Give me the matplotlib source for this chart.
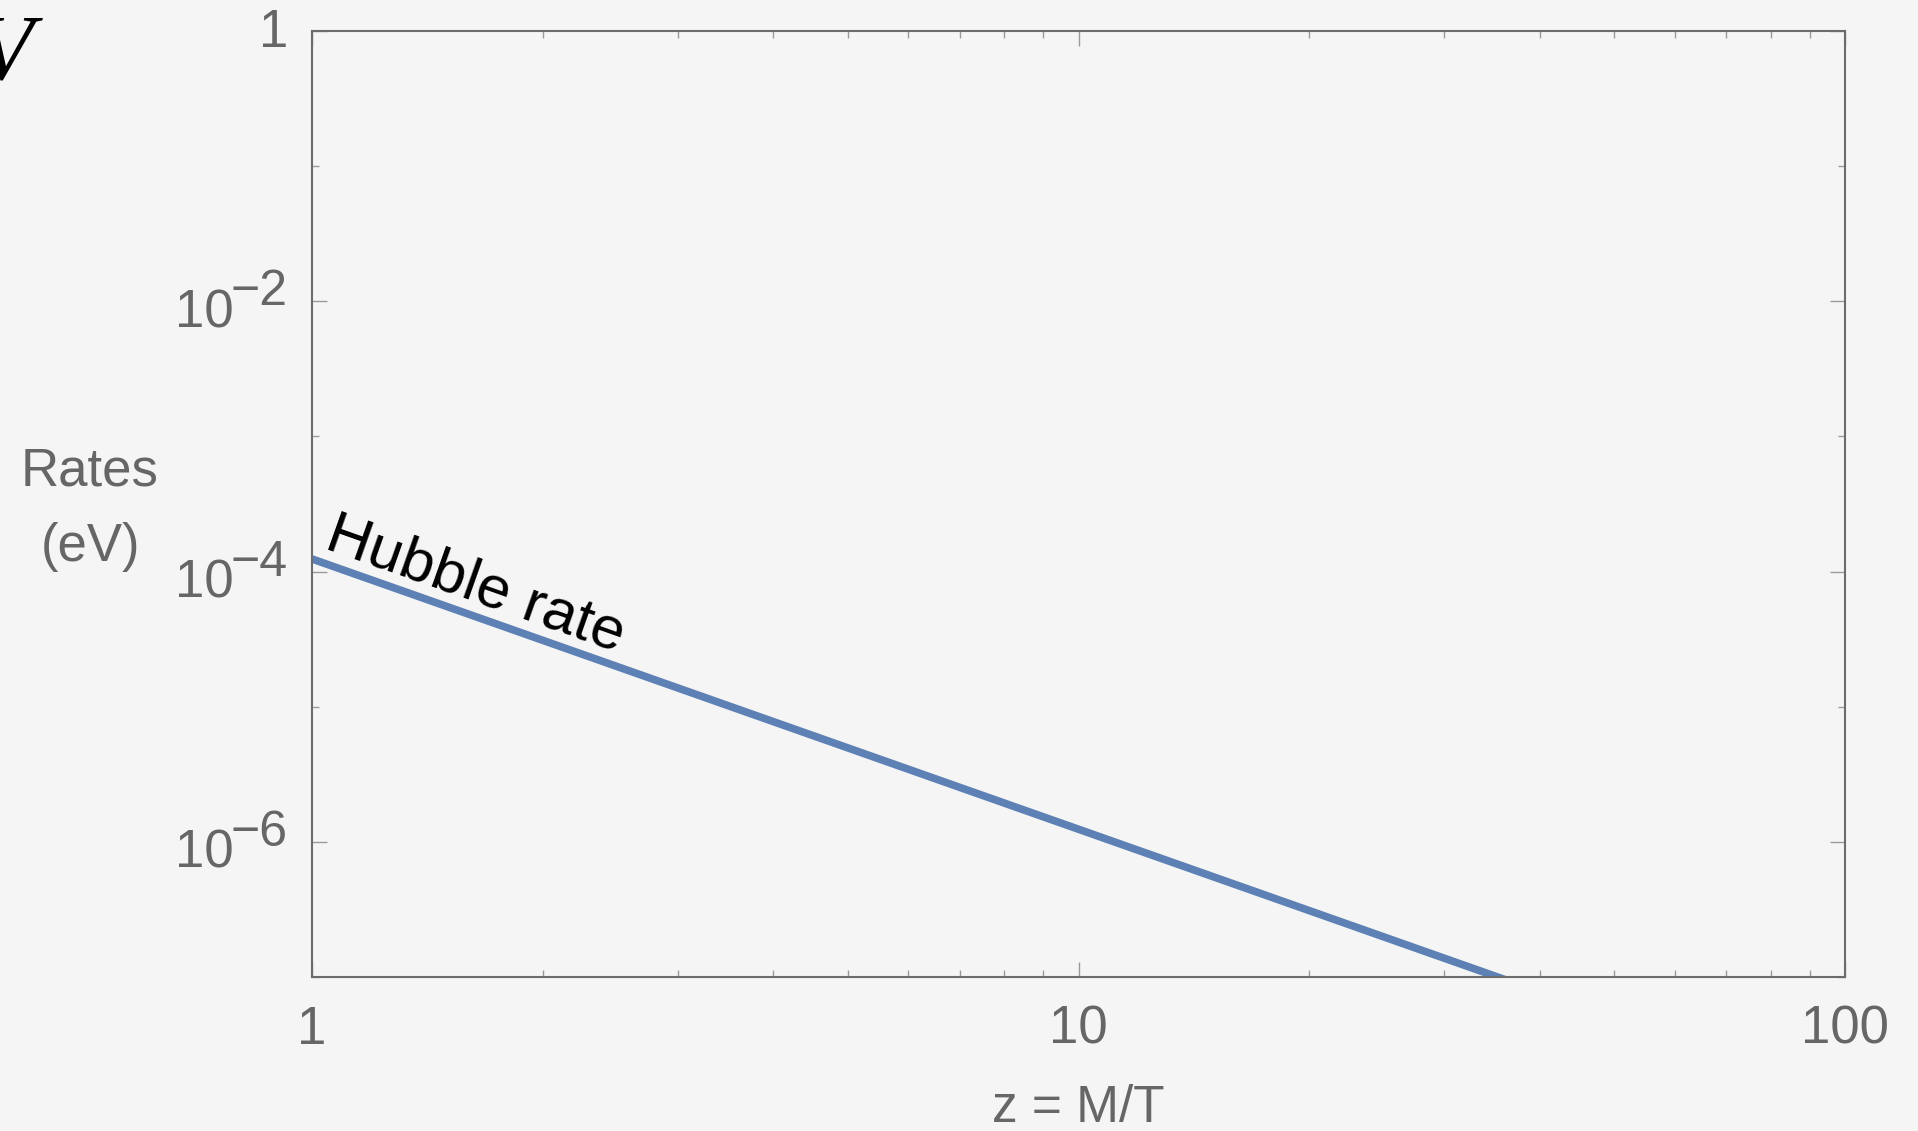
import matplotlib
matplotlib.use("Agg")
import matplotlib.pyplot as plt
from matplotlib import transforms
from matplotlib.ticker import FixedLocator, NullFormatter

# valores
z_vals = [1, 2, 5, 10, 20, 40]
hubble_vals = [1.24e-4, 3.1e-5, 4.96e-6, 1.24e-6, 3.1e-7, 7.75e-8]

x_major = [1, 10, 100]
x_major_labels = ["1", "10", "100"]
x_minor = [2, 3, 4, 5, 6, 7, 8, 9, 20, 30, 40, 50, 60, 70, 80, 90]
y_major = [1, 1e-2, 1e-4, 1e-6]
y_exp = ["", "\u22122", "\u22124", "\u22126"]
y_minor = [1e-1, 1e-3, 1e-5, 1e-7]

bg = "#f5f5f5"
gris = "#666666"
gris_tick = "#9a9a9a"
azul = "#5e81b5"

plt.rcParams["font.family"] = ["Liberation Sans", "DejaVu Sans"]

fig = plt.figure(figsize=(19.18, 11.31), dpi=100, facecolor=bg)
ax = fig.add_axes([0.16267, 0.13616, 0.79927, 0.83643], facecolor=bg)

ax.plot(z_vals, hubble_vals, color=azul, lw=5.5, solid_capstyle="butt")

ax.set_xscale("log")
ax.set_yscale("log")
ax.set_xlim(1, 100)
ax.set_ylim(1e-7, 1)

for s in ax.spines.values():
    s.set_color("#6b6b6b")
    s.set_linewidth(1.5)

ax.xaxis.set_major_locator(FixedLocator(x_major))
ax.xaxis.set_minor_locator(FixedLocator(x_minor))
ax.set_xticklabels(x_major_labels)
ax.xaxis.set_minor_formatter(NullFormatter())
ax.yaxis.set_major_locator(FixedLocator(y_major))
ax.yaxis.set_minor_locator(FixedLocator(y_minor))
ax.yaxis.set_major_formatter(NullFormatter())
ax.yaxis.set_minor_formatter(NullFormatter())

ax.tick_params(which="both", direction="in", top=True, right=True,
               color=gris_tick, width=1)
ax.tick_params(which="major", length=10.5)
ax.tick_params(which="minor", length=5)
ax.tick_params(axis="x", which="major", labelsize=38, labelcolor=gris, pad=20)

# etiquetas del eje y estilo Mathematica (exponente casi del mismo tamaño)
trans_y = transforms.blended_transform_factory(ax.transAxes, ax.transData)
for val, ex in zip(y_major, y_exp):
    if ex == "":
        t = transforms.offset_copy(trans_y, fig=fig, x=-24, y=-2, units="dots")
        ax.text(0, val, "1", transform=t, ha="right", va="center",
                fontsize=38, color=gris, clip_on=False)
    else:
        t1 = transforms.offset_copy(trans_y, fig=fig, x=-78, y=-26, units="dots")
        ax.text(0, val, "10", transform=t1, ha="right", va="baseline",
                fontsize=38, color=gris, clip_on=False)
        t2 = transforms.offset_copy(trans_y, fig=fig, x=-24, y=-4, units="dots")
        ax.text(0, val, ex, transform=t2, ha="right", va="baseline",
                fontsize=36, color=gris, clip_on=False)

ax.set_xlabel("z = M/T", fontsize=37, color=gris, labelpad=21)
fig.text(90 / 1918, 1 - 509 / 1131, "Rates\n(eV)", ha="center", va="center",
         multialignment="center", fontsize=38, color=gris, linespacing=1.65)

ax.text(1.035, 1.5e-4, "Hubble rate", rotation=-19.5, rotation_mode="anchor",
        ha="left", va="baseline", fontsize=43.5, color="black")

# trozo de letra cortado arriba a la izquierda
fig.text(33 / 1918, 1 - 78 / 1131, "V", ha="right", va="baseline",
         fontsize=68, family="Liberation Serif", style="italic", color="black")

fig.savefig("out.png", dpi=100, facecolor=bg)
